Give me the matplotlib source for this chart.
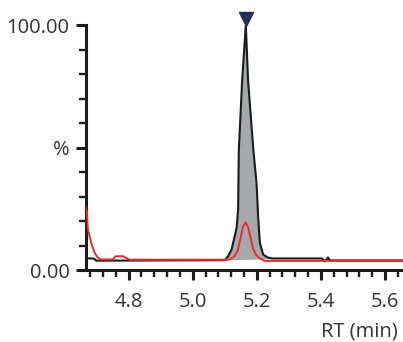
import matplotlib
matplotlib.use("Agg")
import matplotlib.pyplot as plt
from matplotlib.ticker import FixedLocator, MultipleLocator
import numpy as np

plt.rcParams['font.family'] = ['Open Sans', 'DejaVu Sans']

# Black trace (total chromatogram), RT in min, intensity in %
black_rt = [4.6655, 4.690, 4.6995, 5.100, 5.1103, 5.121, 5.1334, 5.1375, 5.1416, 5.1438, 5.154,
            5.1656, 5.1728, 5.1895, 5.199, 5.204, 5.2094, 5.2197, 5.2353, 5.250,
            5.403, 5.4125, 5.422, 5.428, 5.656]
black_pct = [4.9, 4.9, 4.0, 4.2, 5.8, 8.5, 15.3, 18.0, 24.8, 49.0, 77.0,
             100.0, 77.0, 48.5, 35.7, 22.0, 11.3, 6.5, 5.2, 4.9,
             4.9, 3.7, 5.3, 4.1, 4.1]

# Red trace
red_rt = [4.6655, 4.6697, 4.6728, 4.6834, 4.6938, 4.704, 4.7147, 4.751, 4.759, 4.782,
          4.803, 5.100, 5.116, 5.130, 5.140, 5.148, 5.156, 5.1645, 5.172, 5.180,
          5.188, 5.197, 5.208, 5.225, 5.656]
red_pct = [26.0, 24.1, 16.7, 11.3, 7.2, 5.2, 4.5, 4.5, 5.8, 5.8,
           4.4, 4.4, 4.5, 5.8, 8.0, 12.5, 17.5, 19.6, 18.0, 13.5,
           9.0, 6.5, 5.0, 3.9, 3.9]

# Integrated peak region
peak_start, peak_end = 5.100, 5.250
apex_rt, apex_pct = 5.1656, 100.0

y_major = [0, 50, 100]
y_major_labels = ["0.00", "%", "100.00"]
x_major = [4.8, 5.0, 5.2, 5.4, 5.6]
x_major_labels = ["4.8", "5.0", "5.2", "5.4", "5.6"]

fig = plt.figure(figsize=(4.03, 3.42), dpi=100)
ax = fig.add_axes([0.2122, 0.2091, 0.7878, 0.7178])

brt = np.array(black_rt)
bp = np.array(black_pct)
mask = (brt >= peak_start) & (brt <= peak_end)
frt = brt[mask]
fp = bp[mask]
base = np.interp(frt, [peak_start, peak_end], [4.3, 4.8])
ax.fill_between(frt, base, fp, color='#a6a8ab', lw=0, zorder=1)

ax.plot(black_rt, black_pct, color='#1c1c1c', lw=1.5, zorder=2, solid_joinstyle='round')
ax.plot(red_rt, red_pct, color='#ee2a2e', lw=1.4, zorder=3, solid_joinstyle='round')

ax.plot([apex_rt], [apex_pct + 2.4], marker='v', color='#2a2d60', markersize=9.5,
        clip_on=False, zorder=5, linestyle='none')

ax.set_xlim(4.6655, 5.656)
ax.set_ylim(0, 100)

for s in ['top', 'right']:
    ax.spines[s].set_visible(False)
for s in ['left', 'bottom']:
    ax.spines[s].set_linewidth(2.2)
    ax.spines[s].set_color('#1c1c1c')

ax.yaxis.set_major_locator(FixedLocator(y_major))
ax.set_yticklabels(y_major_labels)
ax.yaxis.set_minor_locator(MultipleLocator(10))
ax.xaxis.set_major_locator(FixedLocator(x_major))
ax.set_xticklabels(x_major_labels)
ax.xaxis.set_minor_locator(MultipleLocator(0.04))

ax.tick_params(axis='both', which='major', length=7.5, width=2.2, color='#1c1c1c',
               labelsize=14.5, labelcolor='#333333')
ax.tick_params(axis='both', which='minor', length=4.8, width=1.7, color='#1c1c1c')
ax.tick_params(axis='y', which='major', pad=4)
ax.tick_params(axis='x', which='major', pad=8)

fig.text(398 / 403, 1 - 331 / 342, "RT (min)", ha='right', va='center',
         fontsize=14.5, color='#333333')

fig.savefig('out.png', dpi=100)
